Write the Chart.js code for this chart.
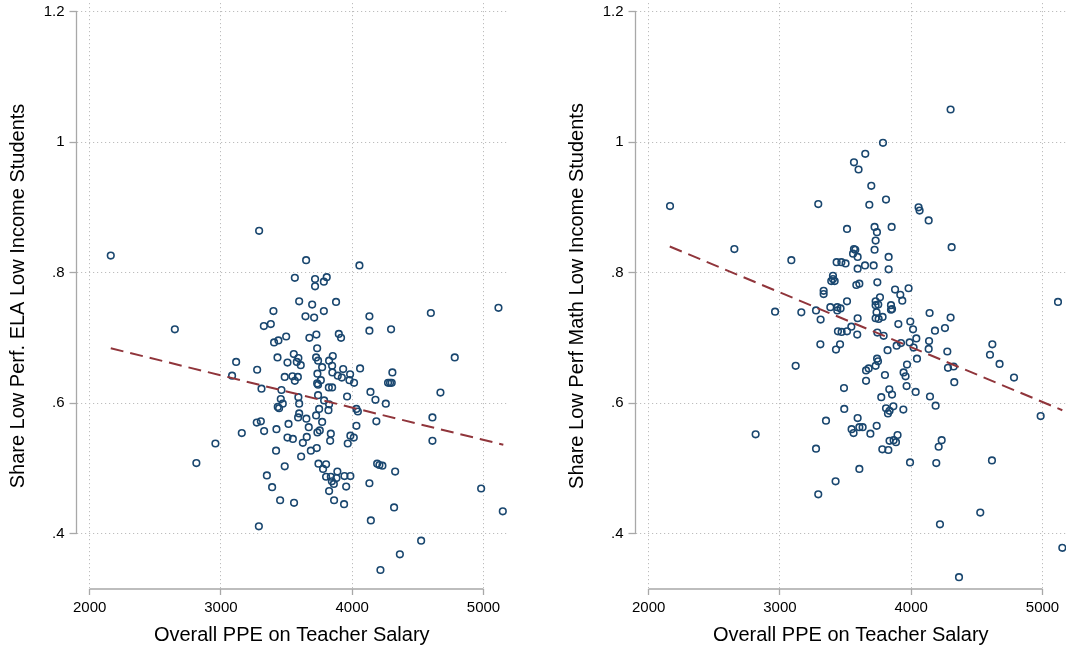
<!DOCTYPE html>
<html>
<head>
<meta charset="utf-8">
<script src="https://cdn.jsdelivr.net/npm/chart.js@4.4.0/dist/chart.umd.min.js"></script>
<style>
  body { margin: 0; background: #fff; }
  .panel { position: absolute; top: 0; width: 507px; height: 651px; }
  #left { left: 0; }
  #right { left: 559px; }
</style>
</head>
<body>
<div class="panel" id="left"><canvas id="elaChart"></canvas></div>
<div class="panel" id="right"><canvas id="mathChart"></canvas></div>
<script>
// Per-pupil spending on teacher salary vs share of low performing low-income students

const xTicks = [2000, 3000, 4000, 5000];
const xTickLabels = ["2000", "3000", "4000", "5000"];
const yTicks = [1.2, 1, 0.8, 0.6, 0.4];
const yTickLabels = ["1.2", "1", ".8", ".6", ".4"];

// ELA panel
const elaSpend = [2161, 3291, 3563, 3596, 2649, 3400, 3327, 3380, 3405, 3438,
  3497, 3116, 3085, 3276, 3309, 3431, 3555, 3507, 3578, 3608,
  3486, 3545, 3563, 3586, 3461, 3456, 3649, 4055, 3717, 3806,
  3784, 3717, 3695, 3877, 3784, 3644, 3710, 4131, 4599, 5114,
  4131, 4296, 3674, 3727, 3898, 3915, 3733, 3590, 3725, 3740,
  3824, 3852, 3847, 3771, 3931, 3849, 3890, 3921, 3984, 3979,
  4014, 4060, 3735, 3733, 3740, 3761, 3822, 3847, 4273, 4288,
  4301, 4306, 4139, 4672, 3961, 3740, 3590, 4177, 3596, 3786,
  3824, 4256, 4032, 4043, 3748, 3819, 3596, 3588, 3725, 3651,
  3515, 3771, 3669, 4184, 4611, 4032, 3735, 3753, 3837, 3654,
  3548, 3624, 3832, 3986, 4012, 3966, 3730, 3685, 4611, 3611,
  3743, 3801, 3778, 4190, 4207, 4230, 4327, 3887, 3801, 3837,
  3880, 3941, 3986, 3845, 3860, 3954, 4131, 3824, 4982, 3557,
  3862, 3938, 4319, 5147, 4142, 4525, 4363, 4215, 3471, 3433,
  3443, 3273, 3304, 3159, 3329, 3423, 3507, 2958, 2813, 3420,
  3486, 3350, 3390, 3451, 3289, 4781];
const elaShare = [0.826, 0.864, 0.792, 0.756, 0.713, 0.741, 0.718, 0.721, 0.693, 0.696,
  0.702, 0.663, 0.642, 0.651, 0.622, 0.670, 0.675, 0.662, 0.663, 0.658,
  0.640, 0.641, 0.634, 0.640, 0.620, 0.606, 0.819, 0.811, 0.790, 0.793,
  0.786, 0.779, 0.751, 0.755, 0.741, 0.733, 0.731, 0.733, 0.738, 0.746,
  0.711, 0.713, 0.700, 0.705, 0.706, 0.700, 0.684, 0.669, 0.670, 0.665,
  0.665, 0.672, 0.657, 0.655, 0.652, 0.647, 0.642, 0.639, 0.644, 0.635,
  0.631, 0.653, 0.645, 0.630, 0.628, 0.635, 0.624, 0.624, 0.631, 0.631,
  0.631, 0.647, 0.617, 0.616, 0.610, 0.612, 0.609, 0.605, 0.599, 0.604,
  0.598, 0.599, 0.591, 0.587, 0.591, 0.589, 0.584, 0.578, 0.581, 0.576,
  0.568, 0.571, 0.563, 0.572, 0.578, 0.565, 0.555, 0.558, 0.553, 0.548,
  0.545, 0.539, 0.542, 0.550, 0.547, 0.538, 0.531, 0.527, 0.542, 0.518,
  0.507, 0.506, 0.499, 0.507, 0.505, 0.504, 0.495, 0.495, 0.487, 0.487,
  0.485, 0.488, 0.488, 0.480, 0.476, 0.472, 0.477, 0.465, 0.469, 0.447,
  0.451, 0.445, 0.440, 0.434, 0.420, 0.389, 0.368, 0.344, 0.599, 0.594,
  0.592, 0.570, 0.572, 0.554, 0.557, 0.560, 0.547, 0.538, 0.508, 0.527,
  0.503, 0.489, 0.471, 0.451, 0.411, 0.670];

// Math panel
const mathSpend = [2163, 2653, 3292, 3564, 3599, 3511, 3087, 3564, 3574, 3557,
  3592, 3432, 3468, 3500, 3592, 4300, 3785, 3650, 3696, 3808,
  3681, 4056, 4064, 4133, 4308, 3721, 3851, 3739, 3729, 3721,
  3828, 3648, 3714, 3828, 3404, 3404, 3391, 3417, 3333, 3333,
  3582, 3605, 3511, 3384, 3437, 3462, 3437, 3275, 2963, 3163,
  3310, 3592, 3544, 3442, 3470, 3511, 3589, 3308, 3458, 3427,
  3120, 3488, 3490, 3592, 3351, 3546, 3605, 3742, 3877, 3980,
  3917, 3932, 3762, 3729, 3749, 3729, 3846, 3854, 3846, 3736,
  4140, 4300, 3729, 3782, 3752, 3993, 3902, 4014, 4181, 4257,
  3742, 3790, 4039, 3988, 3922, 3889, 4136, 4133, 4018, 3820,
  4275, 4618, 4600, 4673, 4783, 5118, 4044, 3740, 3747, 3729,
  3968, 4280, 4323, 3656, 3676, 3942, 3957, 3800, 3656, 4328,
  3965, 3833, 3854, 4034, 3772, 4143, 4186, 4986, 3864, 3808,
  3835, 3823, 3940, 3737, 2815, 3561, 3275, 3605, 3424, 3292,
  3689, 3835, 3866, 3884, 3896, 3780, 3826, 3991, 4191, 4209,
  4232, 4615, 4526, 4219, 5151, 4364, 3630];
const mathShare = [0.902, 0.836, 0.905, 0.969, 0.958, 0.867, 0.819, 0.836, 0.835, 0.829,
  0.824, 0.816, 0.816, 0.814, 0.806, 1.050, 0.999, 0.982, 0.933, 0.912,
  0.904, 0.900, 0.895, 0.880, 0.839, 0.870, 0.870, 0.862, 0.849, 0.835,
  0.824, 0.811, 0.811, 0.805, 0.795, 0.790, 0.787, 0.787, 0.772, 0.767,
  0.781, 0.783, 0.756, 0.747, 0.747, 0.745, 0.742, 0.742, 0.740, 0.739,
  0.728, 0.730, 0.717, 0.710, 0.709, 0.710, 0.705, 0.690, 0.690, 0.682,
  0.657, 0.623, 0.591, 0.577, 0.573, 0.560, 0.563, 0.785, 0.774, 0.776,
  0.766, 0.757, 0.762, 0.756, 0.751, 0.750, 0.750, 0.744, 0.743, 0.739,
  0.738, 0.731, 0.730, 0.732, 0.729, 0.725, 0.721, 0.713, 0.711, 0.715,
  0.708, 0.703, 0.699, 0.693, 0.692, 0.688, 0.695, 0.683, 0.685, 0.681,
  0.679, 0.690, 0.674, 0.660, 0.639, 0.755, 0.668, 0.668, 0.664, 0.657,
  0.659, 0.654, 0.656, 0.650, 0.653, 0.647, 0.641, 0.643, 0.634, 0.632,
  0.626, 0.621, 0.613, 0.617, 0.609, 0.610, 0.596, 0.580, 0.595, 0.592,
  0.588, 0.584, 0.590, 0.565, 0.552, 0.554, 0.530, 0.499, 0.480, 0.460,
  0.553, 0.542, 0.543, 0.540, 0.551, 0.529, 0.528, 0.509, 0.508, 0.533,
  0.543, 0.512, 0.432, 0.414, 0.378, 0.333, 0.563];

// Linear fit endpoints
const fitSpend = [2161, 5151];
const elaFit = [0.684, 0.536];
const mathFit = [0.840, 0.589];

const FONT = "'Liberation Sans', Arial, Helvetica, sans-serif";
const AXIS_GRAY = "#a8a8a8";

// axis lines only cover the labelled range, like the source graphs
const axisLines = {
  id: "axisLines",
  beforeDatasetsDraw(chart) {
    const { ctx, chartArea, scales: { x, y } } = chart;
    ctx.save();
    ctx.strokeStyle = AXIS_GRAY;
    ctx.lineWidth = 1.3;
    ctx.beginPath();
    ctx.moveTo(chartArea.left, y.getPixelForValue(yTicks[0]));
    ctx.lineTo(chartArea.left, y.getPixelForValue(yTicks[yTicks.length - 1]));
    ctx.moveTo(x.getPixelForValue(xTicks[0]), chartArea.bottom);
    ctx.lineTo(x.getPixelForValue(xTicks[xTicks.length - 1]), chartArea.bottom);
    ctx.stroke();
    ctx.restore();
  }
};

function noPadding(scale) {
  scale.paddingTop = 0;
  scale.paddingBottom = 0;
  scale.paddingLeft = 0;
  scale.paddingRight = 0;
}

function makeChart(canvasId, spend, share, fitShare, yTitle) {
  const points = spend.map((v, i) => ({ x: v, y: share[i] }));
  const fit = fitSpend.map((v, i) => ({ x: v, y: fitShare[i] }));

  new Chart(document.getElementById(canvasId), {
    type: "scatter",
    data: {
      datasets: [
        {
          type: "line",
          data: fit,
          showLine: true,
          borderColor: "#90353b",
          borderWidth: 2,
          borderDash: [13, 7],
          pointRadius: 0,
          fill: false,
        },
        {
          data: points,
          pointStyle: "circle",
          pointRadius: 3.3,
          pointBorderWidth: 1.6,
          pointBorderColor: "#1a476f",
          pointBackgroundColor: "rgba(0,0,0,0)",
        },
      ],
    },
    options: {
      responsive: true,
      maintainAspectRatio: false,
      animation: false,
      events: [],
      layout: { autoPadding: false, padding: { top: 3, left: 0, right: 0, bottom: 0 } },
      plugins: { legend: { display: false }, tooltip: { enabled: false } },
      scales: {
        x: {
          type: "linear",
          min: 1900,
          max: 5179,
          afterBuildTicks: (scale) => { scale.ticks = xTicks.map((v) => ({ value: v })); },
          afterFit: (scale) => { scale.height = 62; noPadding(scale); },
          border: { display: false, dash: [1.2, 2.8] },
          grid: {
            color: "#bdbdbd",
            lineWidth: 1,
            tickLength: 6,
            tickColor: AXIS_GRAY,
            tickWidth: 1.3,
            tickBorderDash: [],
          },
          ticks: {
            padding: 4,
            color: "#000",
            font: { family: FONT, size: 15 },
            maxRotation: 0,
            callback: (value) => xTickLabels[xTicks.indexOf(value)],
          },
          title: {
            display: true,
            text: "Overall PPE on Teacher Salary",
            color: "#000",
            font: { family: FONT, size: 20 },
            padding: { top: 0, bottom: 4 },
          },
        },
        y: {
          type: "linear",
          min: 0.3149,
          max: 1.2133,
          afterBuildTicks: (scale) => { scale.ticks = yTicks.map((v) => ({ value: v })); },
          afterFit: (scale) => { scale.width = 76.5; noPadding(scale); },
          border: { display: false, dash: [1.2, 2.8] },
          grid: {
            color: "#bdbdbd",
            lineWidth: 1,
            tickLength: 7,
            tickColor: AXIS_GRAY,
            tickWidth: 1.3,
            tickBorderDash: [],
          },
          ticks: {
            padding: 5,
            color: "#000",
            font: { family: FONT, size: 15 },
            callback: (value) => yTickLabels[yTicks.indexOf(value)],
          },
          title: {
            display: true,
            text: yTitle,
            color: "#000",
            font: { family: FONT, size: 20 },
            padding: { top: 6, bottom: 0 },
          },
        },
      },
    },
    plugins: [axisLines],
  });
}

makeChart("elaChart", elaSpend, elaShare, elaFit, "Share Low Perf. ELA Low Income Students");
makeChart("mathChart", mathSpend, mathShare, mathFit, "Share Low Perf Math Low Income Students");
</script>
</body>
</html>
